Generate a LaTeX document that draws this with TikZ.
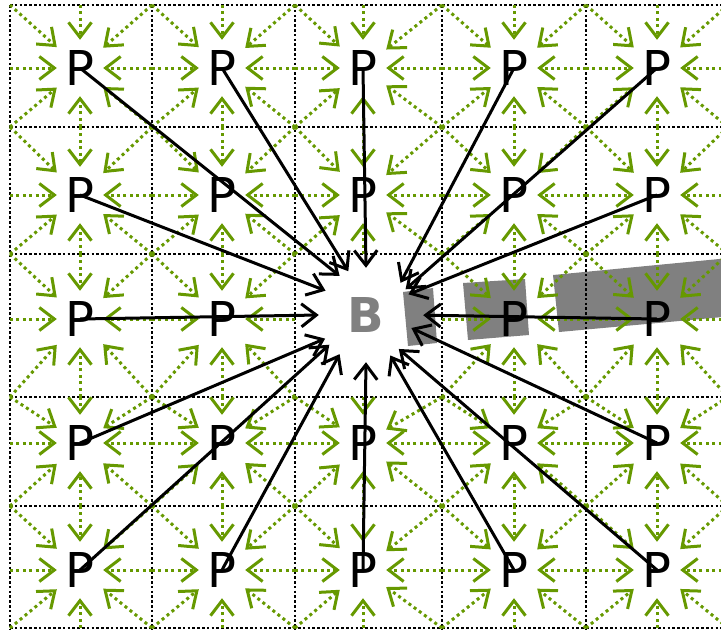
\documentclass[tikz,border=0pt]{standalone}
\usepackage{fontspec}
\setsansfont{DejaVu Sans}
\usetikzlibrary{arrows.meta}
\definecolor{leaf}{HTML}{669900}
\definecolor{obst}{HTML}{808080}
\tikzset{
  cellline/.style={black,line width=2.6pt,dash pattern=on 2.6pt off 2.2pt},
  flow/.style={-{Straight Barb[length=15pt,width=23pt]},leaf,line width=3pt,dash pattern=on 3pt off 3.4pt},
  link/.style={-{Straight Barb[length=15pt,width=23pt]},line width=3pt,black},
  pnode/.style={rectangle,inner sep=0pt,minimum width=46pt,minimum height=56pt,font=\sffamily\fontsize{48}{48}\selectfont},
  bnode/.style={circle,inner sep=0pt,minimum size=94pt,text=obst,font=\sffamily\bfseries\fontsize{48}{48}\selectfont},
  block/.style={fill=obst}
}
\begin{document}
\begin{tikzpicture}[x=1pt,y=-1pt]
\useasboundingbox (0,0) rectangle (721,630);
\clip (0,0) rectangle (721,630);
% obstacles
\fill[block] (403,292) -- (433,288) -- (437,343) -- (408,346) -- cycle;
\fill[block] (463,283) -- (525,279) -- (529,335) -- (468,340) -- cycle;
\fill[block] (553,275) -- (740,257) -- (745,315) -- (559,332) -- cycle;
% cells
\foreach \gx in {10,152,295,442,586} \draw[cellline] (\gx,5) -- (\gx,630);
\foreach \gy in {5,127,254,397,506,628} \draw[cellline] (10,\gy) -- (721,\gy);
% target
\node[bnode] (B) at (366,315) {B};
% particles and their local flow
\foreach \r/\py/\ya/\yb in {1/68/5/127,2/195/127/254,3/319/254/397,4/443/397/506,5/570/506/628}{
  \foreach \c/\px/\xa/\xb in {1/80/10/152,2/222/152/295,3/363/295/442,4/514/442/586,5/657/586/728}{
    \ifnum\r\c=33\relax\else
      \node[pnode] (p\r\c) at (\px,\py) {P};
      \foreach \ex/\ey in {\xa/\ya,\px/\ya,\xb/\ya,\xa/\py,\xb/\py,\xa/\yb,\px/\yb,\xb/\yb}
        \draw[flow] (\ex,\ey) -- (p\r\c);
    \fi
  }
}
% links to B (inner P's lie on the outer ones' lines)
\foreach \src/\ang in {p11/124,p12/112,p13/90,p14/43,p15/33,p21/149,p25/26,
  p31/180,p41/210,p45/344,p51/219,p52/236,p53/270,p54/301,p55/314}
  \draw[link] (\src.center) -- (B.\ang);
\draw[link,shorten >=10pt] (p35.center) -- (B.0);
\end{tikzpicture}
\end{document}
